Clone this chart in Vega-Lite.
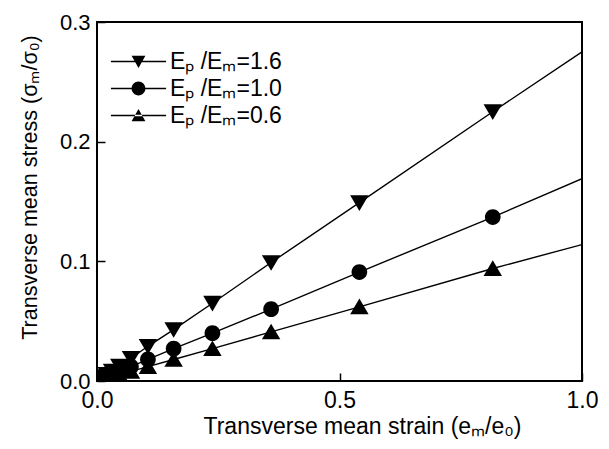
{
  "$schema": "https://vega.github.io/schema/vega-lite/v6.json",
  "width": 485,
  "height": 359,
  "autosize": {"type": "none"},
  "padding": {"left": 97, "top": 22, "right": 27, "bottom": 68},
  "background": "white",
  "config": {
    "view": {"stroke": "black", "strokeWidth": 2},
    "axis": {
      "domain": false,
      "grid": false,
      "labelFont": "Liberation Sans",
      "titleFont": "Liberation Sans",
      "titleFontWeight": "normal",
      "labelColor": "black",
      "titleColor": "black",
      "tickColor": "black",
      "tickWidth": 1.5,
      "tickSize": -8,
      "labelFlush": false,
      "labelOverlap": false
    },
    "legend": {
      "labelFont": "Liberation Sans",
      "labelFontSize": 23,
      "labelColor": "black"
    }
  },
  "datasets": {
    "curves": [
      {"series": "1.6", "x": 0.0, "y": 0.0},
      {"series": "1.6", "x": 0.013, "y": 0.0036},
      {"series": "1.6", "x": 0.02, "y": 0.0055},
      {"series": "1.6", "x": 0.031, "y": 0.0083},
      {"series": "1.6", "x": 0.046, "y": 0.0125},
      {"series": "1.6", "x": 0.07, "y": 0.019},
      {"series": "1.6", "x": 0.105, "y": 0.029},
      {"series": "1.6", "x": 0.158, "y": 0.043},
      {"series": "1.6", "x": 0.238, "y": 0.065},
      {"series": "1.6", "x": 0.359, "y": 0.099},
      {"series": "1.6", "x": 0.541, "y": 0.149},
      {"series": "1.6", "x": 0.816, "y": 0.225},
      {"series": "1.6", "x": 1.0, "y": 0.275},
      {"series": "1.0", "x": 0.0, "y": 0.0},
      {"series": "1.0", "x": 0.013, "y": 0.0022},
      {"series": "1.0", "x": 0.02, "y": 0.0034},
      {"series": "1.0", "x": 0.031, "y": 0.0052},
      {"series": "1.0", "x": 0.046, "y": 0.0078},
      {"series": "1.0", "x": 0.07, "y": 0.012},
      {"series": "1.0", "x": 0.105, "y": 0.018},
      {"series": "1.0", "x": 0.158, "y": 0.027},
      {"series": "1.0", "x": 0.238, "y": 0.04},
      {"series": "1.0", "x": 0.359, "y": 0.06},
      {"series": "1.0", "x": 0.541, "y": 0.091},
      {"series": "1.0", "x": 0.816, "y": 0.137},
      {"series": "1.0", "x": 1.0, "y": 0.169},
      {"series": "0.6", "x": 0.0, "y": 0.0},
      {"series": "0.6", "x": 0.013, "y": 0.0015},
      {"series": "0.6", "x": 0.02, "y": 0.0023},
      {"series": "0.6", "x": 0.031, "y": 0.0035},
      {"series": "0.6", "x": 0.046, "y": 0.0053},
      {"series": "0.6", "x": 0.07, "y": 0.008},
      {"series": "0.6", "x": 0.105, "y": 0.012},
      {"series": "0.6", "x": 0.158, "y": 0.018},
      {"series": "0.6", "x": 0.238, "y": 0.027},
      {"series": "0.6", "x": 0.359, "y": 0.041},
      {"series": "0.6", "x": 0.541, "y": 0.062},
      {"series": "0.6", "x": 0.816, "y": 0.094},
      {"series": "0.6", "x": 1.0, "y": 0.114}
    ]
  },
  "data": {"name": "curves"},
  "encoding": {
    "x": {
      "field": "x",
      "type": "quantitative",
      "scale": {"domain": [0, 1], "nice": false, "zero": false},
      "axis": {"values": [0, 0.5, 1], "format": ".1f", "title": "Transverse mean strain (eₘ/e₀)", "labelFontSize": 23, "titleFontSize": 23, "labelPadding": 16, "titlePadding": 3, "titleX": 265}
    },
    "y": {
      "field": "y",
      "type": "quantitative",
      "scale": {"domain": [0, 0.3], "nice": false, "zero": false},
      "axis": {"values": [0, 0.1, 0.2, 0.3], "format": ".1f", "title": "Transverse mean stress (σₘ/σ₀)", "labelFontSize": 22, "titleFontSize": 21.5, "labelPadding": 15, "titlePadding": 18, "titleY": 165}
    }
  },
  "layer": [
    {
      "mark": {"type": "line", "color": "black", "strokeWidth": 1.4, "clip": true},
      "encoding": {"detail": {"field": "series"}}
    },
    {
      "transform": [{"filter": "datum.x < 1"}],
      "mark": {"type": "point", "filled": true, "color": "black", "opacity": 1, "size": 340, "clip": true},
      "encoding": {
        "shape": {
          "field": "series",
          "type": "nominal",
          "scale": {
            "domain": ["1.6", "1.0", "0.6"],
            "range": ["M-1,-0.8H1L0,0.9Z", "M0.85,0A0.85,0.85,0,1,1,-0.85,0A0.85,0.85,0,1,1,0.85,0Z", "M-1,0.8H1L0,-0.9Z"]
          },
          "legend": null
        }
      }
    },
    {
      "transform": [{"filter": "datum.x < 1"}],
      "mark": {"type": "point", "filled": true, "color": "black", "opacity": 0, "size": 10, "clip": true},
      "encoding": {
        "shape": {
          "field": "series",
          "type": "nominal",
          "scale": {
            "domain": ["1.6", "1.0", "0.6"],
            "range": ["M-4,-0.11H4V0.11H-4ZM-1,-0.85H1L0,0.95Z", "M-4,-0.11H4V0.11H-4ZM1,0A1,1,0,1,1,-1,0A1,1,0,1,1,1,0Z", "M-4,-0.11H4V0.11H-4ZM-1,0.85H1L0,-0.95Z"]
          },
          "legend": {
            "orient": "none",
            "legendX": 16,
            "legendY": 28,
            "title": null,
            "labelExpr": "'Eₚ /Eₘ=' + datum.label",
            "symbolSize": 190,
            "symbolOpacity": 1,
            "symbolFillColor": "black",
            "rowPadding": 3,
            "labelOffset": 20,
            "symbolOffset": 14
          }
        }
      }
    }
  ],
  "resolve": {"scale": {"shape": "independent"}, "legend": {"shape": "independent"}}
}
